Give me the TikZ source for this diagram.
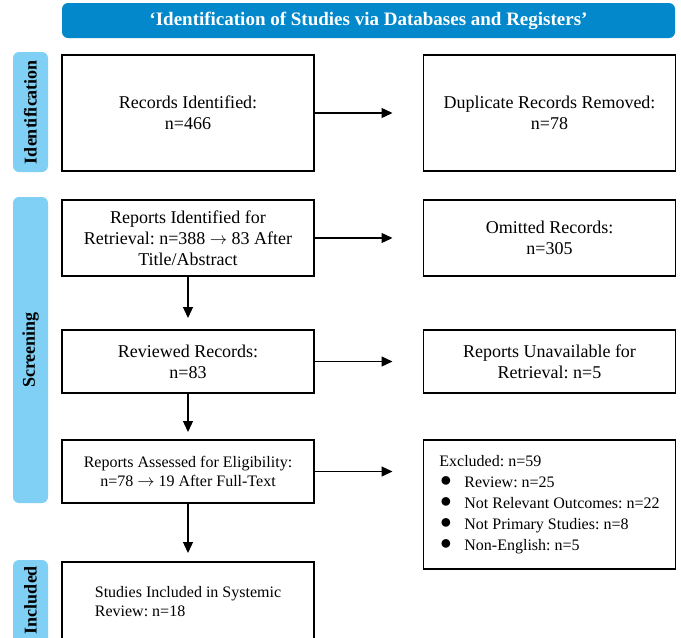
\documentclass[tikz,border=0pt]{standalone}
\usepackage{fontspec}
\setmainfont{Liberation Serif}
\usetikzlibrary{arrows.meta}
\definecolor{titleblue}{RGB}{4,136,204}
\definecolor{sideblue}{RGB}{128,208,245}
\newcommand{\myarrow}{\ensuremath{\rightarrow}}
\newcommand{\mybul}{\hspace*{1pt}\makebox[24pt][l]{\smash{\raisebox{0.5pt}{\scalebox{1.3}{$\bullet$}}}}}
\tikzset{
  box/.style={draw=black, line width=1.4pt, fill=white, inner sep=0pt, outer sep=0pt, minimum width=252pt, align=center, font=\fontsize{18}{21}\selectfont\frenchspacing},
  side/.style={fill=sideblue, rounded corners=6pt, inner sep=0pt, outer sep=0pt, minimum width=35pt},
  sidetext/.style={rotate=90, font=\fontsize{18}{20}\selectfont\bfseries},
  arr/.style={line width=1.3pt, -{Triangle[length=11pt,width=10pt]}},
}
\begin{document}
\begin{tikzpicture}[x=1pt,y=-1pt]
\clip (0,0) rectangle (681,638);
\fill[white] (0,0) rectangle (681,638);
% title
\node[fill=titleblue, rounded corners=6pt, minimum width=613pt, minimum height=35pt, inner sep=0pt, text=white, font=\fontsize{19}{20}\selectfont\bfseries] (title) at (368.5,20.5) {‘Identification of Studies via Databases and Registers’};
% side bars
\node[side, minimum height=120pt] (s1) at (30.5,112) {};
\node[sidetext] (s1t) at (s1) {Identification};
\node[side, minimum height=306pt] (s2) at (30.5,350) {};
\node[sidetext] (s2t) at (s2) {Screening};
\node[side, minimum height=90pt] (s3) at (30.5,605) {};
\node[sidetext] (s3t) at (30.5,600) {Included};
% boxes
\node[box, minimum height=116pt] (b1) at (188,113) {Records Identified:\\n=466};
\node[box, minimum height=116pt] (b2) at (549.5,113) {Duplicate Records Removed:\\n=78};
\node[box, minimum height=76pt] (b3) at (188,238) {Reports Identified for\\Retrieval: n=388 \myarrow{} 83 After\\Title/Abstract};
\node[box, minimum height=76pt] (b4) at (549.5,238) {Omitted Records:\\n=305};
\node[box, minimum height=63pt] (b5) at (188,361.5) {Reviewed Records:\\n=83};
\node[box, minimum height=63pt] (b6) at (549.5,361.5) {Reports Unavailable for\\Retrieval: n=5};
\node[box, minimum height=63pt, font=\fontsize{16}{19.5}\selectfont\frenchspacing] (b7) at (188,471.5) {Reports Assessed for Eligibility:\\n=78 \myarrow{} 19 After Full-Text};
\node[box, minimum height=129pt, align=left, font=\fontsize{16}{21}\selectfont\frenchspacing] (b8) at (549.5,504.5) {Excluded: n=59\\
\mybul Review: n=25\\
\mybul Not Relevant Outcomes: n=22\\
\mybul Not Primary Studies: n=8\\
\mybul Non-English: n=5};
\node[box, minimum height=79pt, align=left, font=\fontsize{16}{19.5}\selectfont\frenchspacing] (b9) at (188,601.5) {Studies Included in Systemic\\Review: n=18};
% arrows
\draw[arr, shorten >=31pt] (b1.east) -- (b2.west);
\draw[arr, shorten >=31pt] (b3.east) -- (b4.west);
\draw[arr, shorten >=31pt] (b5.east) -- (b6.west);
\draw[arr, shorten >=31pt] (b7.east) -- (b7.east -| b8.west);
\draw[arr, shorten >=12pt] (b3.south) -- (b5.north);
\draw[arr, shorten >=8pt] (b5.south) -- (b7.north);
\draw[arr, shorten >=9pt] (b7.south) -- (b9.north);
\end{tikzpicture}
\end{document}
